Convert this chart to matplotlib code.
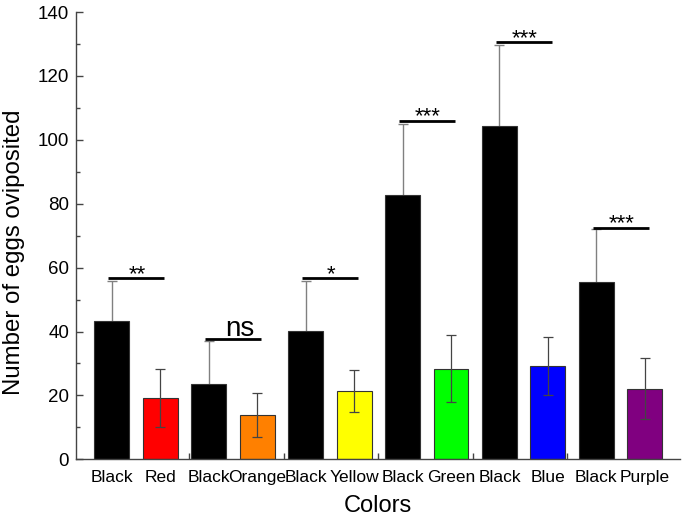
import numpy as np
import matplotlib
matplotlib.use('Agg')
import matplotlib.pyplot as plt

plt.rcParams['font.family'] = ['Liberation Sans', 'DejaVu Sans']

# ─── Data
labels = ['Black', 'Red', 'Black', 'Orange', 'Black', 'Yellow',
          'Black', 'Green', 'Black', 'Blue', 'Black', 'Purple']
means = [43.4, 19.3, 23.7, 13.8, 40.3, 21.3, 82.6, 28.4, 104.4, 29.2, 55.6, 22.1]
errs = [12.5, 9.1, 13.3, 6.9, 15.6, 6.6, 22.3, 10.6, 25.4, 9.0, 16.4, 9.5]
bar_colors = ['#000000', '#ff0000', '#000000', '#ff8000', '#000000', '#ffff00',
              '#000000', '#00ff00', '#000000', '#0000ff', '#000000', '#800080']
sig_labels = ['**', 'ns', '*', '***', '***', '***']
sig_heights = [56.7, 37.8, 56.7, 106.0, 130.5, 72.5]

x = np.arange(1, len(labels) + 1)

fig = plt.figure(figsize=(6.85, 5.17), dpi=100)
ax = fig.add_axes([0.111, 0.1116, 0.882, 0.865])

ax.bar(x, means, width=0.72, color=bar_colors, edgecolor='#333333',
       linewidth=0.8, zorder=2)

# black bars hide the lower half of their error bar
for i in range(len(x)):
    if i % 2 == 0:
        ax.errorbar(x[i], means[i], yerr=errs[i], fmt='none',
                    ecolor='#808080', elinewidth=1.0, capsize=3.6,
                    capthick=1.0, zorder=1)
    else:
        ax.errorbar(x[i], means[i], yerr=errs[i], fmt='none',
                    ecolor='#444444', elinewidth=0.9, capsize=3.6,
                    capthick=0.9, zorder=3)

# significance lines
for g in range(len(sig_labels)):
    xb = x[2 * g]
    h = sig_heights[g]
    ax.plot([xb - 0.07, xb + 1.08], [h, h], color='black', lw=2.0,
            solid_capstyle='butt', zorder=4)
    xm = xb + 0.52
    if sig_labels[g] == 'ns':
        ax.text(xm + 0.12, h + 0.7, 'ns', ha='center', va='baseline',
                fontsize=20)
    else:
        ax.text(xm, h - 0.6, sig_labels[g], ha='center', va='baseline',
                fontsize=16)

ax.set_xlim(0.26, 12.73)
ax.set_ylim(0, 140)
ax.set_yticks(np.arange(0, 141, 20))
ax.set_yticks(np.arange(10, 140, 20), minor=True)
ax.set_xticks(x)
ax.set_xticklabels(labels, fontsize=12.5)
ax.set_xticks([2.60, 4.56, 6.50, 8.45, 10.40], minor=True)

ax.tick_params(axis='y', which='major', direction='in', length=5,
               width=1, colors='#444444', labelcolor='black', labelsize=13.5, pad=5)
ax.tick_params(axis='y', which='minor', direction='in', length=3,
               width=1, colors='#444444')
ax.tick_params(axis='x', which='major', length=0, pad=8, labelcolor='black')
ax.tick_params(axis='x', which='minor', direction='in', length=4,
               width=1, colors='#444444')

for side in ['top', 'right']:
    ax.spines[side].set_visible(False)
for side in ['left', 'bottom']:
    ax.spines[side].set_color('#444444')
    ax.spines[side].set_linewidth(1.0)

ax.set_xlabel('Colors', fontsize=17, labelpad=7)
ax.set_ylabel('Number of eggs oviposited', fontsize=17.3)
ax.yaxis.set_label_coords(-0.085, 0.463)

plt.savefig('out.png', dpi=100)
plt.close(fig)
